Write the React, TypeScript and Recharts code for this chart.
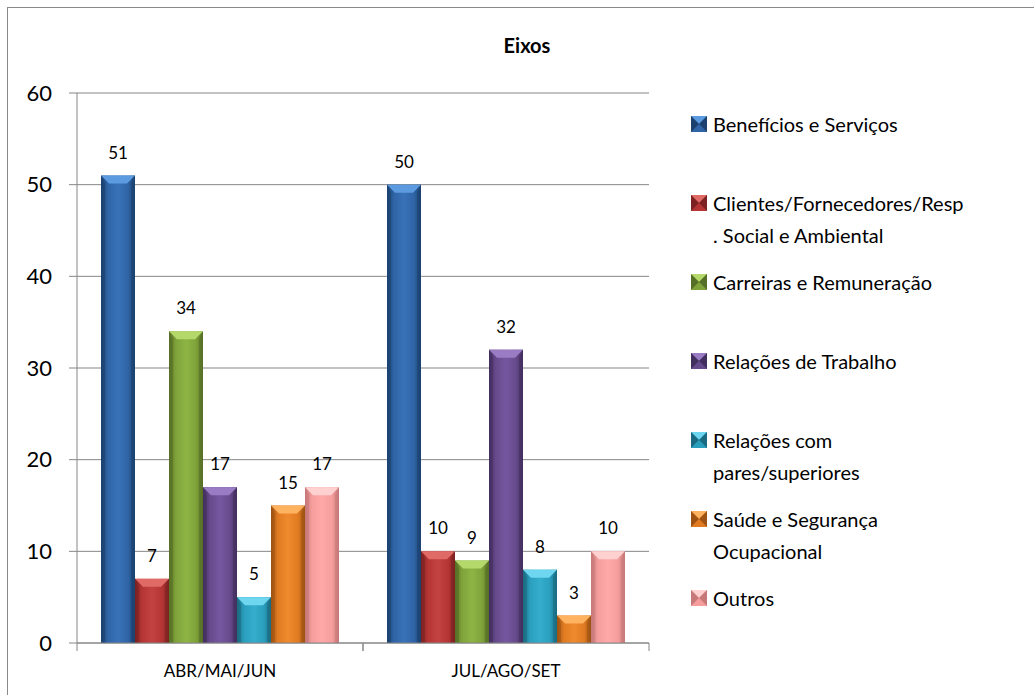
import React from 'react';
import { BarChart, Bar, XAxis, YAxis, CartesianGrid, Legend, LabelList } from 'recharts';

const categories = ['ABR/MAI/JUN', 'JUL/AGO/SET'];

const seriesNames = [
  'Benefícios e Serviços',
  'Clientes/Fornecedores/Resp. Social e Ambiental',
  'Carreiras e Remuneração',
  'Relações de Trabalho',
  'Relações com pares/superiores',
  'Saúde e Segurança Ocupacional',
  'Outros',
];

// how Excel wrapped the legend text
const legendLines = [
  ['Benefícios e Serviços'],
  ['Clientes/Fornecedores/Resp', '. Social e Ambiental'],
  ['Carreiras e Remuneração'],
  ['Relações de Trabalho'],
  ['Relações com', 'pares/superiores'],
  ['Saúde e Segurança', 'Ocupacional'],
  ['Outros'],
];

const beneficios = [51, 50];
const clientes = [7, 10];
const carreiras = [34, 9];
const relacoesTrabalho = [17, 32];
const relacoesPares = [5, 8];
const saude = [15, 3];
const outros = [17, 10];

const seriesValues = [beneficios, clientes, carreiras, relacoesTrabalho, relacoesPares, saude, outros];
const yTicks = [0, 10, 20, 30, 40, 50, 60];

const data = categories.map((category, i) => {
  const row: Record<string, string | number> = { category };
  seriesNames.forEach((name, s) => {
    row[name] = seriesValues[s][i];
  });
  return row;
});

// base / light / dark for the bevelled bars
const PALETTE = [
  { base: '#2f64a6', light: '#5d9be0', dark: '#1c416f', mid: '#3a72b8' },
  { base: '#b53534', light: '#e06a66', dark: '#7c2222', mid: '#c24342' },
  { base: '#7fa33a', light: '#b4d86a', dark: '#566f26', mid: '#8db545' },
  { base: '#674a8c', light: '#9a7cc4', dark: '#432f5e', mid: '#7557a0' },
  { base: '#2a9ebd', light: '#6fd6f0', dark: '#1a6b81', mid: '#35adcd' },
  { base: '#e07b22', light: '#ffb260', dark: '#9e5312', mid: '#f08a2e' },
  { base: '#f59d9d', light: '#ffd0d0', dark: '#c77878', mid: '#ffa9a9' },
];

const GRID = '#868686';
const FONT = 'Lato, "Open Sans", sans-serif';

const CHART_W = 1034;
const CHART_H = 695;
const MARGIN = { top: 93, right: 385, bottom: 0, left: 0 };
const Y_AXIS_W = 77;
const X_AXIS_H = 52;
const PLOT_W = CHART_W - MARGIN.left - MARGIN.right - Y_AXIS_W;
const HALF_BAND = PLOT_W / categories.length / 2;

const makeShape = (idx: number) => (props: any) => {
  const { x, y, width, height } = props;
  if (!height || height <= 0) return <g />;
  const c = PALETTE[idx];
  const b = Math.min(8, width / 4, height / 2);
  return (
    <g>
      <rect x={x} y={y} width={width} height={height} fill={`url(#grad-${idx})`} />
      <polygon
        points={`${x},${y} ${x + width},${y} ${x + width - b},${y + b} ${x + b},${y + b}`}
        fill={c.light}
      />
      <polygon points={`${x},${y} ${x + b / 2},${y + b} ${x + b / 2},${y + height} ${x},${y + height}`} fill={c.dark} opacity={0.55} />
      <polygon
        points={`${x + width},${y} ${x + width - b / 2},${y + b} ${x + width - b / 2},${y + height} ${x + width},${y + height}`}
        fill={c.dark}
        opacity={0.55}
      />
    </g>
  );
};

const XTick = (props: any) => {
  const { x, y, payload } = props;
  return (
    <g>
      <line x1={x - HALF_BAND} y1={y - 8} x2={x - HALF_BAND} y2={y} stroke={GRID} />
      <line x1={x + HALF_BAND} y1={y - 8} x2={x + HALF_BAND} y2={y} stroke={GRID} />
      <text x={x} y={y} dy={26} textAnchor="middle" fontSize={17} fontFamily={FONT} fill="#000">
        {payload.value}
      </text>
    </g>
  );
};

const Marker = ({ idx }: { idx: number }) => {
  const c = PALETTE[idx];
  const s = 16;
  return (
    <svg width={s} height={s} style={{ display: 'block' }}>
      <rect x={0} y={0} width={s} height={s} fill={c.mid} />
      <polygon points={`0,0 ${s},0 ${s / 2},${s / 2}`} fill={c.light} />
      <polygon points={`0,${s} ${s},${s} ${s / 2},${s / 2}`} fill={c.base} />
      <polygon points={`0,0 ${s / 2},${s / 2} 0,${s}`} fill={c.dark} />
      <polygon points={`${s},0 ${s / 2},${s / 2} ${s},${s}`} fill={c.dark} />
    </svg>
  );
};

const renderLegend = () => (
  <div style={{ fontFamily: FONT, fontSize: 20, color: '#000' }}>
    {legendLines.map((lines, i) => (
      <div key={i} style={{ display: 'flex', alignItems: 'flex-start', height: 79 }}>
        <div style={{ marginTop: 8, marginRight: 6 }}>
          <Marker idx={i} />
        </div>
        <div style={{ lineHeight: '32px', whiteSpace: 'nowrap' }}>
          {lines.map((l, k) => (
            <div key={k}>{l}</div>
          ))}
        </div>
      </div>
    ))}
  </div>
);

export default function App() {
  return (
    <div style={{ position: 'fixed', left: 0, top: 0, width: CHART_W, height: CHART_H, background: '#fff', overflow: 'hidden' }}>
      <div
        style={{
          position: 'absolute',
          left: 7,
          top: 7,
          width: 1100,
          height: 800,
          border: '1px solid #8a8a8a',
          boxSizing: 'border-box',
        }}
      />
      <div
        style={{
          position: 'absolute',
          left: 427,
          width: 200,
          top: 32,
          textAlign: 'center',
          fontFamily: FONT,
          fontWeight: 700,
          fontSize: 20,
          lineHeight: '26px',
          color: '#000',
        }}
      >
        Eixos
      </div>
      <div style={{ position: 'absolute', left: 0, top: 0 }}>
        <BarChart
          width={CHART_W}
          height={CHART_H}
          data={data}
          margin={MARGIN}
          barCategoryGap={24}
          barGap={0}
        >
          <defs>
            {PALETTE.map((c, i) => (
              <linearGradient key={i} id={`grad-${i}`} x1="0" y1="0" x2="1" y2="0">
                <stop offset="0%" stopColor={c.dark} />
                <stop offset="20%" stopColor={c.base} />
                <stop offset="50%" stopColor={c.mid} />
                <stop offset="80%" stopColor={c.base} />
                <stop offset="100%" stopColor={c.dark} />
              </linearGradient>
            ))}
          </defs>
          <CartesianGrid vertical={false} stroke={GRID} />
          <XAxis
            dataKey="category"
            height={X_AXIS_H}
            tickLine={false}
            tickSize={8}
            tickMargin={0}
            axisLine={{ stroke: GRID }}
            tick={<XTick />}
            interval={0}
          />
          <YAxis
            width={Y_AXIS_W}
            domain={[0, 60]}
            ticks={yTicks}
            interval={0}
            tickSize={8}
            tickMargin={17}
            axisLine={{ stroke: GRID }}
            tickLine={{ stroke: GRID }}
            tick={{ fontSize: 22, fontFamily: FONT, fill: '#000' }}
          />
          <Legend
            layout="vertical"
            align="center"
            verticalAlign="middle"
            content={renderLegend}
            wrapperStyle={{ left: 691, top: 108, width: 340 }}
          />
          {seriesNames.map((name, i) => (
            <Bar
              key={name}
              dataKey={name}
              fill={PALETTE[i].base}
              shape={makeShape(i)}
              isAnimationActive={false}
            >
              <LabelList
                dataKey={name}
                position="top"
                offset={17}
                fontSize={17}
                fontFamily={FONT}
                fill="#000"
              />
            </Bar>
          ))}
        </BarChart>
      </div>
    </div>
  );
}
